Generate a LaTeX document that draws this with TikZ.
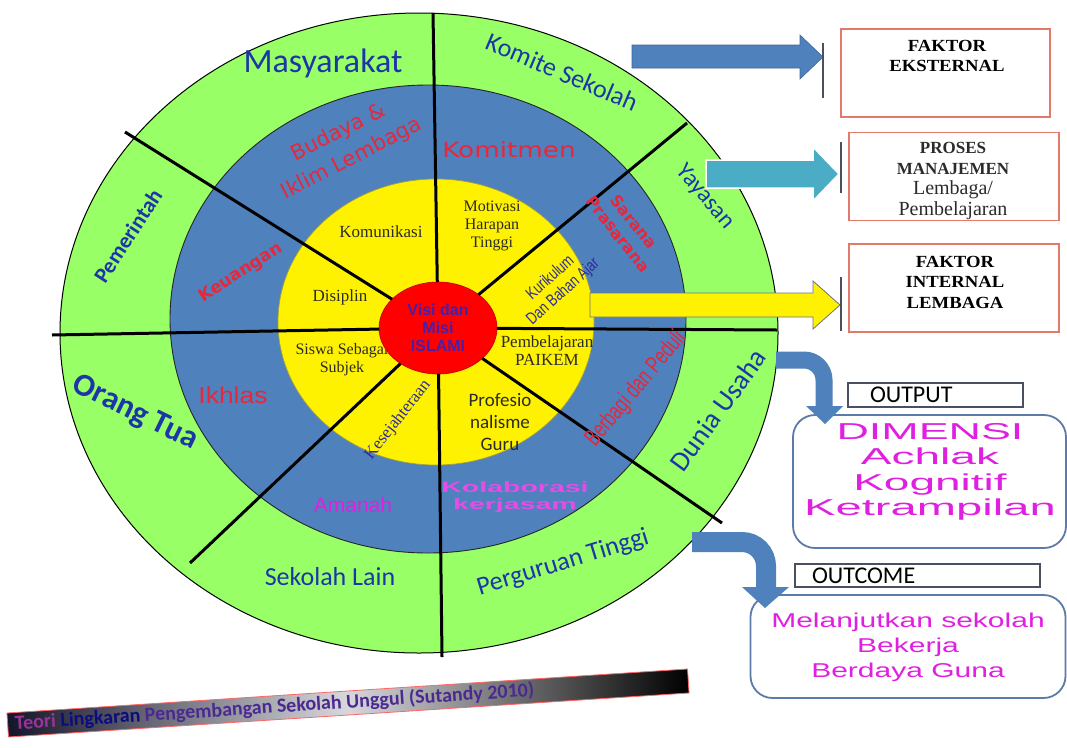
\documentclass[tikz,border=0pt]{standalone}
\usepackage{fontspec}
\usepackage{graphicx}
\usetikzlibrary{shapes.geometric}
\setmainfont{Liberation Serif}
\newfontfamily\calfont{Carlito}
\newfontfamily\dvsfont{DejaVu Sans}
\newfontfamily\arifont{Liberation Sans}
\newfontfamily\narrowfont[FakeStretch=0.7]{Liberation Sans}
\newfontfamily\kurfont[FakeStretch=0.76]{Liberation Sans}
\newfontfamily\tmsfont{Liberation Serif}
\newcommand{\fsz}[2]{\fontsize{#1}{#2}\selectfont}
\definecolor{ringgreen}{HTML}{99FF66}
\definecolor{ringblue}{HTML}{4F81BD}
\definecolor{arrowteal}{HTML}{4BACC6}
\definecolor{txtblue}{HTML}{1C35A8}
\definecolor{txtred}{HTML}{E5283C}
\definecolor{txtmag}{HTML}{E020E0}
\definecolor{txtpur}{HTML}{4A1FA8}
\definecolor{txtnavy}{HTML}{2D2D99}
\definecolor{txtdark}{HTML}{2B2B2B}
\definecolor{boxred}{HTML}{E07A6A}
\definecolor{boxblue}{HTML}{5B7BA8}
\definecolor{bargray}{HTML}{4A5060}
\definecolor{banpur}{HTML}{4A2A90}
\definecolor{bandark}{HTML}{15152A}
\definecolor{banlight}{HTML}{D8D8DC}
\begin{document}
\begin{tikzpicture}[x=1pt,y=-1pt,
  every node/.style={inner sep=0pt, outer sep=0pt},
  gl/.style={text=txtblue, font=\calfont\fsz{#1}{#1}},
  glb/.style={text=txtblue, font=\calfont\bfseries\fsz{#1}{#1}},
  divider/.style={line width=3pt, black},
  factorbox/.style={draw=boxred, line width=1.3pt, minimum width=210pt, minimum height=88pt},
  lblbox/.style={draw=bargray, line width=1.8pt},
  roundbox/.style={draw=boxblue, line width=1.8pt, rounded corners=22pt},
  bar/.style={draw=bargray, line width=1.6pt},
  blockblue/.style={fill=ringblue, draw=ringblue!80!black, line width=0.6pt}
]
\useasboundingbox (0,0) rectangle (1067,747);
\fill[white] (0,0) rectangle (1067,747);

% ---- rings
\filldraw[fill=ringgreen, draw=black, line width=1pt] (419,333) ellipse [x radius=359, y radius=320];
\filldraw[fill=ringblue, draw=black!85, line width=0.9pt] (428,319) ellipse [x radius=258, y radius=234];
\filldraw[fill=yellow, draw=yellow!60!black, line width=0.7pt] (436,322) ellipse [x radius=158, y radius=143];

% ---- yellow ring texts
\node[text=txtdark, font=\tmsfont\fsz{17}{17}] (komunikasi) at (381,232) {Komunikasi};
\node[text=txtdark, font=\tmsfont\fsz{16}{18}, align=center] (motivasi) at (492,226) {Motivasi\\Harapan\\Tinggi};
\node[text=txtdark, font=\tmsfont\fsz{17}{17}] (disiplin) at (340,297) {Disiplin};
\node[text=txtdark, font=\tmsfont\fsz{16}{18}, align=center] (siswa) at (342,360) {Siswa Sebagai\\Subjek};
\node[text=txtnavy, font=\kurfont\fsz{17}{19}, rotate=42, align=center] (kurikulum) at (557,285) {Kurikulum\\Dan Bahan Ajar};
\node[text=txtdark, font=\tmsfont\fsz{17}{18}, align=center] (pembelajaran) at (547,351) {Pembelajaran\\PAIKEM};
\node[text=txtdark, font=\calfont\fsz{19}{22}, align=center] (profesio) at (500,422) {Profesio\\nalisme\\Guru};
\node[text=txtnavy, font=\tmsfont\fsz{17}{17}, rotate=52] (kesejahteraan) at (398,420) {Kesejahteraan};

% ---- centre
\node[ellipse, fill=red, draw=red!75!black, line width=0.6pt, minimum width=118pt, minimum height=92pt,
      text=txtpur, font=\arifont\bfseries\fsz{16}{18}, align=center] (c) at (438,328) {Visi dan\\Misi\\ISLAMI};

% ---- dividers
\coordinate (pN) at (433,13);
\coordinate (pS) at (442,657);
\coordinate (pW) at (52,335);
\coordinate (pE) at (777,330);
\coordinate (pNW) at (125,132);
\coordinate (pNE) at (687,123);
\coordinate (pSE) at (722,523);
\coordinate (pSW) at (190,563);
\foreach \p in {pN,pS,pW,pE,pNW,pNE,pSE,pSW} \draw[divider] (c) -- (\p);

% ---- blue ring texts
\node[text=txtred, font=\dvsfont\fsz{21}{29}, rotate=27, align=center] (budaya) at (345,146) {Budaya \&\\Iklim Lembaga};
\node[text=txtred, font=\dvsfont\fsz{21}{21}] (komitmen) at (509,150) {\scalebox{1.25}[1]{Komitmen}};
\node[text=txtred, font=\dvsfont\bfseries\fsz{17}{17}, rotate=33] (keuangan) at (241,273) {Keuangan};
\node[text=txtred, font=\dvsfont\bfseries\fsz{16}{20}, rotate=-52, align=center] (sarana) at (626,228) {Sarana\\Prasarana};
\node[text=txtred, font=\arifont\fsz{23}{23}] (ikhlas) at (233,395) {\scalebox{1.15}[1]{Ikhlas}};
\node[text=txtmag, font=\arifont\fsz{21}{21}] (amanah) at (353,505) {Amanah};
\node[text=txtmag!80, font=\arifont\bfseries\fsz{15}{17}, align=center] (kolaborasi) at (515,497) {\scalebox{1.9}[1]{Kolaborasi}\\\scalebox{1.9}[1]{kerjasam}};
\node[text=txtred, font=\narrowfont\fsz{24}{24}, rotate=50] (berbagi) at (636,389) {Berbagi dan Peduli};

% ---- green ring texts
\node[gl=34] (masyarakat) at (323,63) {Masyarakat};
\node[gl=26, rotate=-23] (komite) at (562,72) {Komite Sekolah};
\node[gl=24, rotate=-50] (yayasan) at (705,197) {Yayasan};
\node[glb=22, rotate=57] (pemerintah) at (128,236) {Pemerintah};
\node[glb=32, rotate=-26] (orangtua) at (135,413) {Orang Tua};
\node[gl=26] (sekolahlain) at (330,577) {Sekolah Lain};
\node[gl=26, rotate=17] (perguruan) at (563,563) {Perguruan Tinggi};
\node[gl=28, rotate=54] (dunia) at (718,410) {Dunia Usaha};

% ---- right factor boxes
\node[factorbox, minimum width=209pt] (b1) at (945.5,73) {};
\node[factorbox] (b2) at (954,176.5) {};
\node[factorbox] (b3) at (954,288) {};
\node[font=\tmsfont\bfseries\fsz{17}{20}, align=center] (t1) at (947,56) {\scalebox{1.1}[1]{FAKTOR}\\\scalebox{1.1}[1]{EKSTERNAL}};
\node[font=\tmsfont\fsz{17}{20.5}, align=center, text=txtdark] (t2) at (953,181) {\textbf{PROSES}\\\textbf{MANAJEMEN}\\{\fsz{20}{20.5}Lembaga/}\\{\fsz{20}{20.5}Pembelajaran}};
\node[font=\tmsfont\bfseries\fsz{17}{20.5}, align=center] (t3) at (955,282) {\scalebox{1.1}[1]{FAKTOR}\\\scalebox{1.1}[1]{INTERNAL}\\\scalebox{1.1}[1]{LEMBAGA}};

% ---- straight block arrows and bars
\coordinate (bar1t) at (823,43); \coordinate (bar1b) at (823,98);
\coordinate (bar2t) at (841,142); \coordinate (bar2b) at (841,193);
\coordinate (bar3t) at (841,277); \coordinate (bar3b) at (841,331);
\filldraw[blockblue] (632,45) -- (800,45) -- (800,35) -- (823,57) -- (800,79) -- (800,68) -- (632,68) -- cycle;
\filldraw[fill=arrowteal, draw=white, line width=1.5pt] (706,160) -- (813,160) -- (813,147) -- (839,174) -- (813,201) -- (813,188) -- (706,188) -- cycle;
\filldraw[fill=yellow, draw=bargray!80, line width=0.8pt] (590,293) -- (813,293) -- (813,281) -- (840,305) -- (813,329) -- (813,317) -- (590,317) -- cycle;
\draw[bar] (bar1t) -- (bar1b);
\draw[bar] (bar2t) -- (bar2b);
\draw[bar] (bar3t) -- (bar3b);

% ---- output / outcome
\node[lblbox, minimum width=175pt, minimum height=24pt] (outlbl) at (935.5,395) {};
\node[font=\calfont\fsz{24}{24}, anchor=west] (outtxt) at (870,395) {OUTPUT};
\node[roundbox, minimum width=273pt, minimum height=133pt] (dim) at (929.5,481.5) {};
\node[font=\arifont\fsz{23}{25.5}, text=txtmag, align=center] (dimtxt) at (930,472) {\scalebox{1.95}[1]{DIMENSI}\\\scalebox{2}[1]{Achlak}\\\scalebox{2}[1]{Kognitif}\\\scalebox{2.05}[1]{Ketrampilan}};
\node[lblbox, minimum width=245pt, minimum height=23pt] (outclbl) at (917.5,575.5) {};
\node[font=\calfont\fsz{24}{24}, anchor=west] (outctxt) at (812,576) {OUTCOME};
\node[roundbox, minimum width=315pt, minimum height=103pt] (outc) at (908,646.5) {};
\node[font=\arifont\fsz{20}{25}, text=txtmag, align=center] (outctx) at (908,647) {\scalebox{1.5}[1]{Melanjutkan sekolah}\\\scalebox{1.5}[1]{Bekerja}\\\scalebox{1.5}[1]{Berdaya Guna}};

% ---- curved arrows
\coordinate (a1s) at (776,360);
\coordinate (a1m) at (824,360);
\coordinate (a1e) at (824,408);
\draw[ringblue, line width=17pt, rounded corners=20pt] (a1s) -- (a1m) -- (a1e);
\fill[ringblue] (806,406) -- (843,406) -- (825,424) -- cycle;
\coordinate (a2s) at (692,542);
\coordinate (a2m) at (766,542);
\coordinate (a2e) at (766,590);
\draw[ringblue, line width=20pt, rounded corners=24pt] (a2s) -- (a2m) -- (a2e);
\fill[ringblue] (742,587) -- (789,587) -- (765,608) -- cycle;

% ---- banner
\node[rotate=3.7, minimum width=682pt, minimum height=24pt, draw=red!60!white, line width=0.8pt,
      left color=bandark, right color=black, middle color=banlight] (banner) at (348,703) {};
\node[rotate=3.7, anchor=west, font=\calfont\bfseries\fsz{20}{20}] (bantxt) at (15,724)
  {\textcolor{violet!80!white}{Teori} \textcolor{bandark!60!blue}{Lingkaran} \textcolor{banpur}{Pengembangan Sekolah Unggul (Sutandy 2010)}};
\end{tikzpicture}
\end{document}
